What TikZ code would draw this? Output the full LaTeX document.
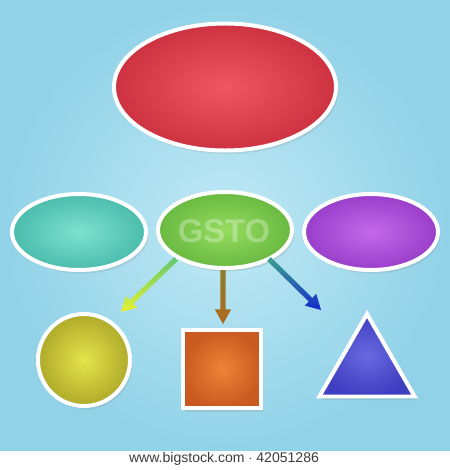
\documentclass[tikz,border=0pt]{standalone}
\usepackage{fontspec}
\setsansfont{Liberation Sans}
\usetikzlibrary{shapes.geometric,calc,shadows}
\definecolor{bgin}{RGB}{192,233,245}
\definecolor{bgout}{RGB}{145,210,232}
\definecolor{redin}{RGB}{240,85,98}
\definecolor{redout}{RGB}{205,50,64}
\definecolor{tealin}{RGB}{125,225,205}
\definecolor{tealout}{RGB}{75,188,172}
\definecolor{grnin}{RGB}{150,220,95}
\definecolor{grnout}{RGB}{105,185,65}
\definecolor{purin}{RGB}{195,105,232}
\definecolor{purout}{RGB}{152,62,202}
\definecolor{yelin}{RGB}{228,228,75}
\definecolor{yelout}{RGB}{175,170,42}
\definecolor{orain}{RGB}{238,132,55}
\definecolor{oraout}{RGB}{202,90,32}
\definecolor{bluin}{RGB}{105,105,225}
\definecolor{bluout}{RGB}{62,62,192}
\definecolor{txt}{RGB}{60,60,60}
\definecolor{a1top}{RGB}{95,200,110}
\definecolor{a1bot}{RGB}{232,242,50}
\definecolor{a2top}{RGB}{140,125,45}
\definecolor{a2bot}{RGB}{175,105,30}
\definecolor{a3top}{RGB}{60,165,140}
\definecolor{a3bot}{RGB}{20,40,205}
\newcommand\gradarrow[4]{%
  \coordinate (hb) at ($(#2)!12.5pt!(#1)$);
  \shade[top color=#3, bottom color=#4]
    ($(#1)!2.2pt!90:(#2)$) -- ($(hb)!2.2pt!90:(#2)$) -- ($(hb)!7pt!90:(#2)$) -- (#2)
    -- ($(hb)!7pt!-90:(#2)$) -- ($(hb)!2.2pt!-90:(#2)$) -- ($(#1)!2.2pt!-90:(#2)$) -- cycle;}
\begin{document}
\begin{tikzpicture}[x=0.03cm,y=-0.03cm,
  shapebox/.style={draw=white, line width=3.4pt, inner sep=0pt, outer sep=0pt,
     drop shadow={opacity=0.18, shadow xshift=2pt, shadow yshift=-3pt}}]
\useasboundingbox (0,0) rectangle (450,470);
\fill[white] (0,0) rectangle (450,470);
\shade[inner color=bgin, outer color=bgout] (0,0) rectangle (450,450);

\node[shapebox, ellipse, minimum width=6.66cm, minimum height=3.81cm,
      inner color=redin, outer color=redout] (top) at (225,87) {};
\node[shapebox, ellipse, minimum width=4.02cm, minimum height=2.28cm,
      inner color=tealin, outer color=tealout] (left) at (79,232) {};
\node[shapebox, ellipse, minimum width=4.02cm, minimum height=2.28cm,
      inner color=grnin, outer color=grnout] (mid) at (225,230) {};
\node[shapebox, ellipse, minimum width=4.02cm, minimum height=2.28cm,
      inner color=purin, outer color=purout] (right) at (371,232) {};

\node[white, opacity=0.3, font=\sffamily\bfseries\fontsize{28}{28}\selectfont]
  (wm) at (224,231) {GSTO};

\node[shapebox, circle, minimum size=2.76cm,
      inner color=yelin, outer color=yelout] (circ) at (84,360) {};
\node[shapebox, rectangle, minimum size=2.34cm,
      inner color=orain, outer color=oraout] (sq) at (222,369) {};
\node[shapebox, regular polygon, regular polygon sides=3, minimum size=3.3cm,
      inner color=bluin, outer color=bluout] (tri) at (367,369) {};

\coordinate (s1) at (176,259);
\coordinate (t1) at (121,312);
\coordinate (s2) at (223,270);
\coordinate (t2) at (223,324);
\coordinate (s3) at (269,259);
\coordinate (t3) at (321,310);
\gradarrow{s1}{t1}{a1top}{a1bot}
\gradarrow{s2}{t2}{a2top}{a2bot}
\gradarrow{s3}{t3}{a3top}{a3bot}

\node[txt, font=\sffamily\fontsize{12}{12}\selectfont] (credit) at (224,459)
  {www.bigstock.com $\cdot$ 42051286};
\end{tikzpicture}
\end{document}
